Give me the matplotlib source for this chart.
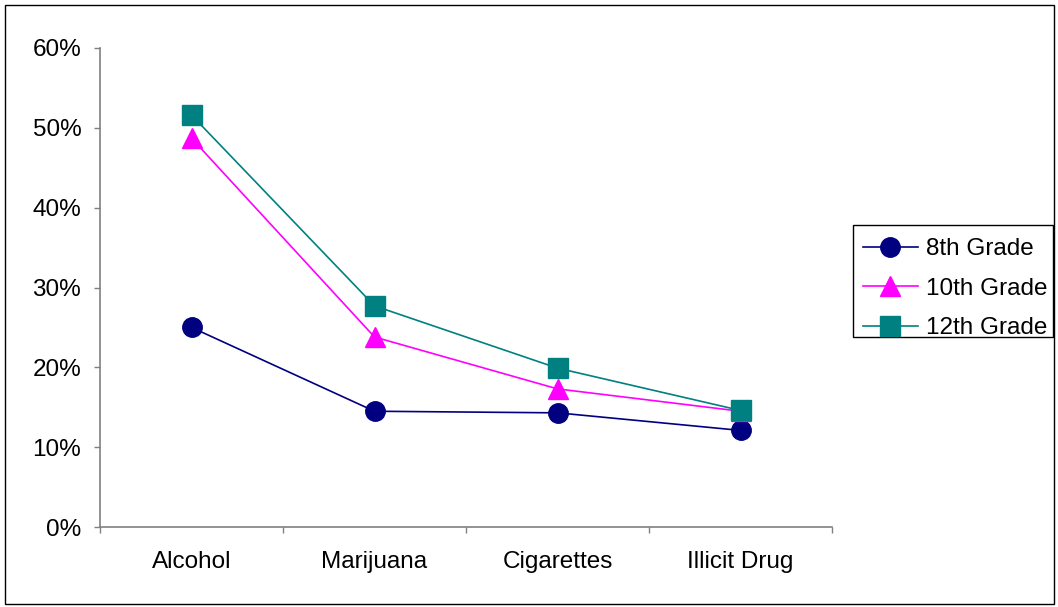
import matplotlib
matplotlib.use("Agg")
import matplotlib.pyplot as plt
from matplotlib.patches import Rectangle
from matplotlib.ticker import FixedLocator, PercentFormatter, NullFormatter

categories = ["Alcohol", "Marijuana", "Cigarettes", "Illicit Drug"]
grade8 = [25.0, 14.5, 14.3, 12.1]
grade10 = [48.7, 23.8, 17.3, 14.5]
grade12 = [51.6, 27.7, 19.9, 14.6]
series_names = ["8th Grade", "10th Grade", "12th Grade"]
y_ticks = [0, 10, 20, 30, 40, 50, 60]

plt.rcParams['font.family'] = ['Liberation Sans', 'DejaVu Sans']

W, H = 1058, 607
FS = 17.5
fig = plt.figure(figsize=(W / 100, H / 100), dpi=100)
ax = fig.add_axes([100 / W, 1 - 527 / H, (832 - 100) / W, (527 - 48) / H])

x = list(range(len(categories)))
styles = [
    dict(color="#000080", marker="o"),
    dict(color="#FF00FF", marker="^"),
    dict(color="#008080", marker="s"),
]
for vals, name, st in zip([grade8, grade10, grade12], series_names, styles):
    ax.plot(x, vals, color=st["color"], marker=st["marker"], markersize=14,
            markerfacecolor=st["color"], markeredgecolor=st["color"],
            linewidth=1.2, label=name, clip_on=False)

ax.set_xlim(-0.5, len(categories) - 0.5)
ax.set_ylim(0, 60)
ax.yaxis.set_major_locator(FixedLocator(y_ticks))
ax.yaxis.set_major_formatter(PercentFormatter(decimals=0))

ax.xaxis.set_major_locator(FixedLocator([i - 0.5 for i in range(len(categories) + 1)]))
ax.xaxis.set_major_formatter(NullFormatter())
ax.xaxis.set_minor_locator(FixedLocator(x))
ax.set_xticklabels(categories, minor=True)

for s in ["top", "right"]:
    ax.spines[s].set_visible(False)
for s in ["left", "bottom"]:
    ax.spines[s].set_color("#808080")
    ax.spines[s].set_linewidth(1.2)

ax.tick_params(axis="y", which="major", direction="out", length=4.5, width=1.0,
               color="#808080", labelsize=FS, pad=9, labelcolor="black")
ax.tick_params(axis="x", which="major", direction="out", length=4.5, width=1.0,
               color="#808080")
ax.tick_params(axis="x", which="minor", length=0, labelsize=FS, pad=17,
               labelcolor="black")

leg = fig.legend(loc="upper left", bbox_to_anchor=(863 / W, 1 - 238 / H),
                 bbox_transform=fig.transFigure, borderaxespad=0,
                 fontsize=FS, frameon=False, handlelength=2.26,
                 handletextpad=0.33, labelspacing=0.72, borderpad=0.0,
                 markerscale=1.0)

# legend frame
fig.patches.append(Rectangle((853 / W, 1 - 337 / H), (1053 - 853) / W, (337 - 225) / H,
                             transform=fig.transFigure, fill=False,
                             edgecolor="black", linewidth=1.0))

# outer chart border
fig.patches.append(Rectangle((5 / W, 1 - 604 / H), (1054 - 5) / W, (604 - 5) / H,
                             transform=fig.transFigure, fill=False,
                             edgecolor="black", linewidth=1.0))

fig.savefig("out.png", dpi=100)
